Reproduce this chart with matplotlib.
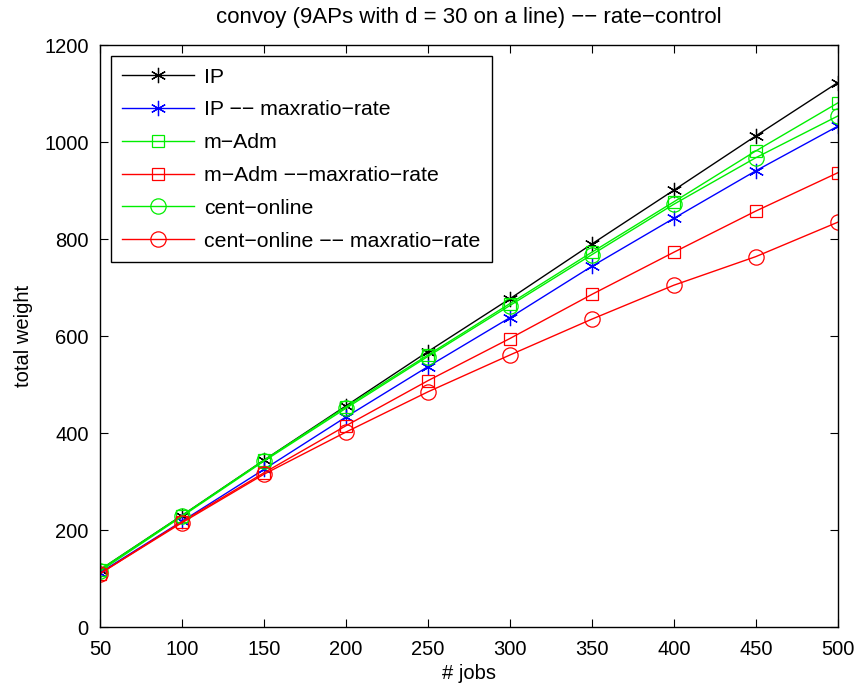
import numpy as np
import matplotlib
matplotlib.use('Agg')
import matplotlib.pyplot as plt

plt.rcParams['font.family'] = ['Liberation Sans', 'DejaVu Sans']

# liczba zadań
jobs = [50, 100, 150, 200, 250, 300, 350, 400, 450, 500]

# wartości
ip = [118, 230, 344, 456, 568, 677, 790, 901, 1013, 1123]
ip_maxratio = [112, 218, 325, 433, 537, 638, 744, 843, 941, 1033]
madm = [118, 230, 344, 454, 561, 667, 773, 877, 982, 1081]
cent_online = [115, 228, 342, 451, 558, 663, 768, 872, 968, 1054]
madm_maxratio = [110, 217, 318, 415, 508, 595, 686, 773, 858, 937]
cent_maxratio = [110, 215, 315, 402, 485, 561, 635, 705, 764, 835]

labels = ['IP', 'IP \u2212\u2212 maxratio\u2212rate', 'm\u2212Adm',
          'm\u2212Adm \u2212\u2212maxratio\u2212rate', 'cent\u2212online',
          'cent\u2212online \u2212\u2212 maxratio\u2212rate']

fs = 14.5

fig = plt.figure(figsize=(8.61, 6.86), dpi=100)
ax = fig.add_axes([0.116, 0.086, 0.857, 0.848])

aster = (6, 2, 0)
ax.plot(jobs, ip, color='black', marker=aster, ms=11, mew=0.9, lw=1, label=labels[0])
ax.plot(jobs, ip_maxratio, color='blue', marker=aster, ms=11, mew=0.9, lw=1, label=labels[1])
ax.plot(jobs, madm, color='#00ee00', marker='s', ms=9, mfc='none', mew=0.9, lw=1, label=labels[2])
ax.plot(jobs, madm_maxratio, color='red', marker='s', ms=9, mfc='none', mew=0.9, lw=1, label=labels[3])
ax.plot(jobs, cent_online, color='#00ee00', marker='o', ms=11, mfc='none', mew=0.9, lw=1, label=labels[4])
ax.plot(jobs, cent_maxratio, color='red', marker='o', ms=11, mfc='none', mew=0.9, lw=1, label=labels[5])

ax.set_xlim(50, 500)
ax.set_ylim(0, 1200)
ax.set_xticks(np.arange(50, 501, 50))
ax.set_yticks(np.arange(0, 1201, 200))
ax.tick_params(direction='in', top=True, right=True, labelsize=fs, length=6)
ax.tick_params(axis='x', pad=9)
ax.tick_params(axis='y', pad=8)
for s in ax.spines.values():
    s.set_linewidth(1.0)

ax.set_xlabel('# jobs', fontsize=fs, labelpad=4)
ax.set_ylabel('total weight', fontsize=fs, labelpad=8)
ax.set_title('convoy (9APs with d = 30 on a line) \u2212\u2212 rate\u2212control', fontsize=16, pad=16)

leg = ax.legend(loc='upper left', fontsize=15.3, fancybox=False, edgecolor='black',
                framealpha=1, handlelength=3.4, handletextpad=0.45,
                borderaxespad=0.5, labelspacing=0.65, borderpad=0.55)
leg.get_frame().set_linewidth(1.0)

fig.savefig('out.png', dpi=100)
